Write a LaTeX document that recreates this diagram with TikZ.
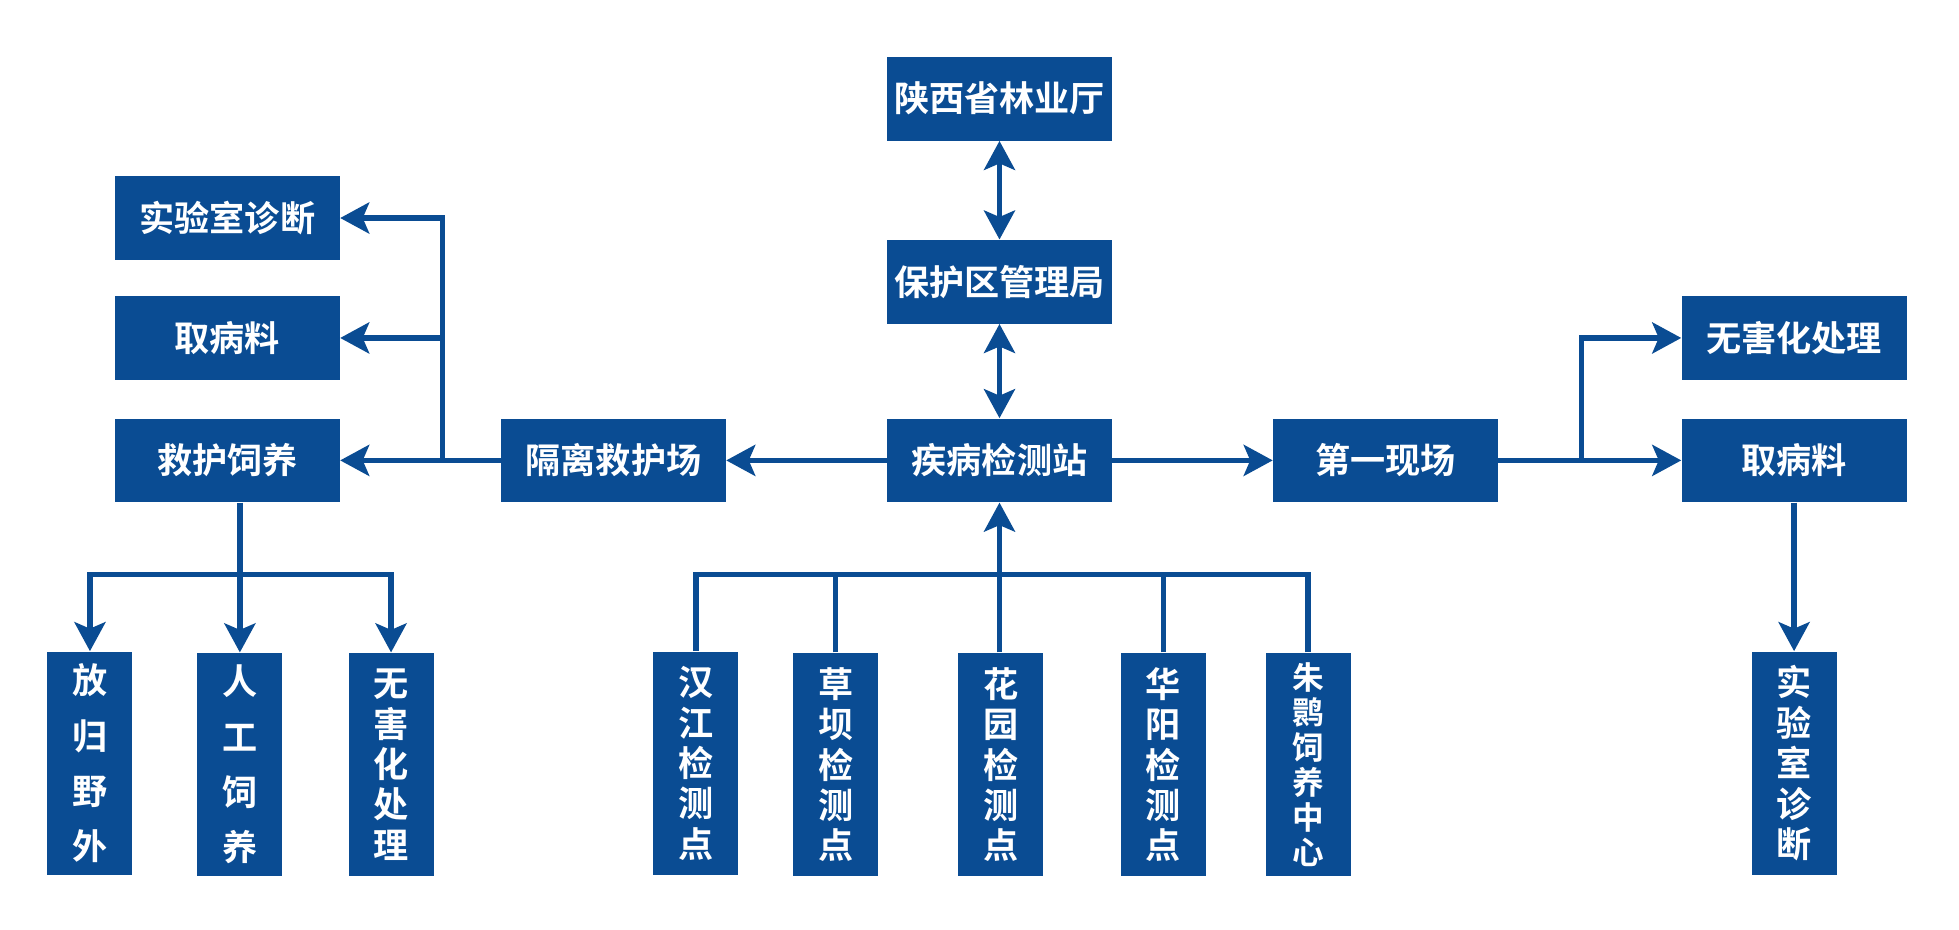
\documentclass[tikz,border=0pt]{standalone}
\usepackage{fontspec}
\newfontfamily\cjk{Noto Sans CJK SC Bold}
\usetikzlibrary{positioning, arrows.meta, calc}
\definecolor{navy}{HTML}{0A4C93}
\tikzset{
  blok/.style={draw=none, fill=navy, text=white, inner sep=0pt,
               minimum width=4.5cm, minimum height=1.675cm,
               font=\cjk\fontsize{20pt}{24pt}\selectfont},
  vblok/.style={draw=none, fill=navy, text=white, inner sep=0pt, align=center,
                minimum width=1.7cm, minimum height=4.475cm,
                font=\cjk\fontsize{20pt}{#1}\selectfont},
  link/.style={line width=3pt, draw=navy},
  tip/.tip={Stealth[length=5.8mm, width=6.2mm, inset=1.3mm]},
  flow/.style={link, -tip},
  flowB/.style={link, tip-tip},
}

\begin{document}
\begin{tikzpicture}[x=0.025cm, y=-0.025cm]
  \useasboundingbox (0,0) rectangle (1568,744);
  % middle column
  \node[blok] (lin) at (800,79) {陕西省林业厅};
  \node[blok] (bhq) at (800,225.5) {保护区管理局};
  \node[blok] (jbz) at (800,368.5) {疾病检测站};
  \node[blok] (glj) at (491,368.5) {隔离救护场};
  \node[blok] (dyx) at (1109,368.5) {第一现场};
  % left column
  \node[blok] (sysL) at (182,174.5) {实验室诊断};
  \node[blok] (qblL) at (182,270.5) {取病料};
  \node[blok] (jhs) at (182,368.5) {救护饲养};
  % right column
  \node[blok] (whR) at (1436,270.5) {无害化处理};
  \node[blok] (qblR) at (1436,368.5) {取病料};
  % bottom row
  \node[vblok=31.5pt] (fgy) at (72,611) {放\\归\\野\\外};
  \node[vblok=31.5pt] (rgs) at (192,612) {人\\工\\饲\\养};
  \node[vblok=23pt] (whL) at (313,612) {无\\害\\化\\处\\理};
  \node[vblok=23pt] (hj) at (557,611) {汉\\江\\检\\测\\点};
  \node[vblok=23pt] (cb) at (669,612) {草\\坝\\检\\测\\点};
  \node[vblok=23pt] (hy) at (801,612) {花\\园\\检\\测\\点};
  \node[vblok=23pt] (hya) at (931,612) {华\\阳\\检\\测\\点};
  \node[vblok=20pt, font=\cjk\fontsize{18pt}{20pt}\selectfont] (zh) at (1047,612) {朱\\鹮\\饲\\养\\中\\心};
  \node[vblok=23pt] (sysR) at (1436,611) {实\\验\\室\\诊\\断};
  % junctions
  \coordinate (lj) at (354,368.5);
  \coordinate (lb) at (192,460);
  \coordinate (mb) at (800,460);
  \coordinate (rj) at (1266,368.5);
  % connectors
  \draw[flowB] (jbz.north) -- (bhq.south);
  \draw[flowB] (bhq.north) -- (lin.south);
  \draw[flow] (jbz.west) -- (glj.east);
  \draw[flow] (jbz.east) -- (dyx.west);
  \draw[flow] (glj.west) -- (jhs.east);
  \draw[flow] (lj) |- (qblL.east);
  \draw[flow] (lj) |- (sysL.east);
  \draw[link] (jhs.south -| lb) -- (lb);
  \draw[flow] (lb) -- (rgs.north);
  \draw[flow] (lb) -| (fgy.north);
  \draw[flow] (lb) -| (whL.north);
  \foreach \n in {hj, cb, hya, zh}
    \draw[link] (\n.north) |- (mb);
  \draw[flow] (hy.north -| mb) -- (jbz.south);
  \draw[flow] (dyx.east) -- (qblR.west);
  \draw[flow] (rj) |- (whR.west);
  \draw[flow] (qblR.south) -- (sysR.north);
\end{tikzpicture}
\end{document}
